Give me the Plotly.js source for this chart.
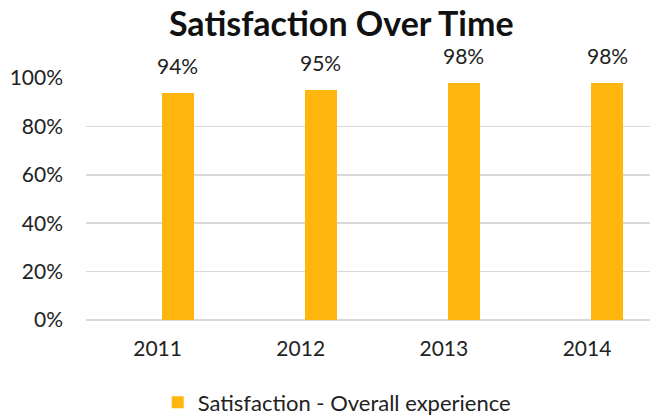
<!DOCTYPE html>
<html>
<head>
<meta charset="utf-8">
<script src="https://cdn.plot.ly/plotly-3.0.1.min.js"></script>
<style>html,body{margin:0;padding:0;background:#fff;}#chart{width:650px;height:415px;}</style>
</head>
<body>
<div id="chart"></div>
<script>
const years = ["2011", "2012", "2013", "2014"];
const satisfaction = [0.94, 0.95, 0.98, 0.98];
const valueLabels = ["94%", "95%", "98%", "98%"];
const seriesName = "Satisfaction - Overall experience";
const yTicks = [0, 0.2, 0.4, 0.6, 0.8, 1.0];
const yTickLabels = ["0%", "20%", "40%", "60%", "80%", "100%"];

const font = "Lato, 'Open Sans', sans-serif";
const barColor = "#FFB60F";
const barWidth = 0.224;
const barOffset = 0.028;   // bars sit right of the category centre (second slot of a cluster)

const trace = {
  type: "bar",
  x: years,
  y: satisfaction,
  name: seriesName,
  width: barWidth,
  offset: barOffset,
  marker: {color: barColor},
  showlegend: true,
  hoverinfo: "none"
};

const annotations = years.map((yr, i) => ({
  x: i + barOffset + barWidth / 2, y: satisfaction[i], xref: "x", yref: "y",
  text: valueLabels[i], showarrow: false,
  xanchor: "center", yanchor: "bottom", yshift: 13,
  font: {family: font, size: 21, color: "#222"}
}));

const layout = {
  width: 650, height: 415,
  margin: {l: 86, r: 0, t: 78, b: 95},
  paper_bgcolor: "#fff", plot_bgcolor: "#fff",
  font: {family: font, color: "#222"},
  title: {
    text: "<b>Satisfaction Over Time</b>",
    font: {family: font, size: 34, color: "#111"},
    xref: "container", yref: "container",
    x: 0.525, xanchor: "center", y: 0.942, yanchor: "middle"
  },
  xaxis: {
    type: "category",
    range: [-0.5, 3.44],
    showgrid: false, zeroline: false, showline: false,
    ticks: "", ticklabelstandoff: 14,
    tickfont: {family: font, size: 21, color: "#222"}
  },
  yaxis: {
    range: [0, 1.0],
    tickvals: yTicks, ticktext: yTickLabels,
    showgrid: true, gridcolor: "#d9d9d9", gridwidth: 1.5,
    zeroline: true, zerolinecolor: "#d9d9d9", zerolinewidth: 1.5,
    showline: false, ticks: "", ticklabelstandoff: 22,
    tickfont: {family: font, size: 21, color: "#222"}
  },
  legend: {
    orientation: "h",
    xref: "container", yref: "container",
    x: 0.518, xanchor: "center", y: 0.03, yanchor: "middle",
    font: {family: font, size: 22, color: "#222"},
    itemwidth: 30
  },
  annotations: annotations,
  bargap: 0
};

Plotly.newPlot("chart", [trace], layout, {displayModeBar: false, staticPlot: true});
</script>
</body>
</html>
